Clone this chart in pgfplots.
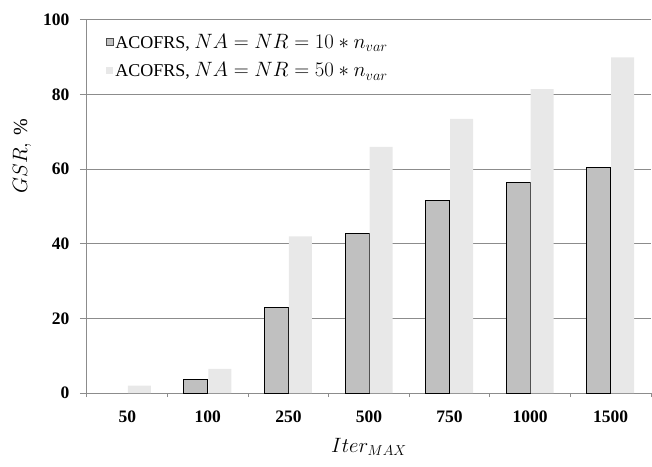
\documentclass[border=0pt]{standalone}
\usepackage{fontspec}
\setmainfont{Liberation Serif}
\usepackage{pgfplots}
\pgfplotsset{compat=1.18}
\usetikzlibrary{calc}

\definecolor{gridgray}{HTML}{8C8C8C}
\definecolor{barA}{HTML}{C0C0C0}
\definecolor{barB}{HTML}{E8E8E8}

\begin{document}
\begin{tikzpicture}
\begin{axis}[
  name=ax,
  scale only axis, width=564pt, height=373pt,
  xmin=-0.5, xmax=6.5, ymin=0, ymax=100,
  xtick={0,...,6},
  xticklabels={50,100,250,500,750,1000,1500},
  major x tick style={draw=none},
  minor xtick={-0.5,0.5,...,6.5},
  minor x tick style={gridgray, line width=1pt},
  minor tick length=4pt,
  ytick={0,20,...,100},
  major tick length=7pt,
  y tick style={gridgray, line width=1pt},
  tick align=outside,
  ymajorgrids, grid style={gridgray, line width=1pt},
  axis x line*=bottom, axis y line*=left,
  axis line style={gridgray, line width=1pt, -},
  /pgf/number format/assume math mode=true,
  ticklabel style={font=\bfseries\fontsize{17.5}{17.5}\selectfont},
  yticklabel style={xshift=-7pt},
  xticklabel style={yshift=-7pt},
  xlabel={$Iter_{MAX}$},
  ylabel={$GSR,\,\%$},
  label style={font=\fontsize{20}{20}\selectfont},
  xlabel style={at={(axis description cs:0.5,-0.145)}, anchor=center},
  ylabel style={at={(axis description cs:-0.115,0.635)}, anchor=center},
  legend style={at={(axis description cs:0.033,0.968)}, anchor=north west,
    draw=none, fill=none, font=\fontsize{18}{22}\selectfont,
    row sep=9pt, cells={anchor=west}, inner sep=0pt},
  legend cell align=left,
]
  \addplot[ybar, bar width=24pt, bar shift=-12pt, fill=barA, draw=black, line width=0.9pt,
    legend image code/.code={\draw[fill=barA, draw=black!70, line width=0.5pt] (0pt,-3.5pt) rectangle (7pt,3.5pt);}]
    coordinates {(1,3.5)(2,23)(3,42.7)(4,51.7)(5,56.5)(6,60.5)};
  \addlegendentry{ACOFRS, {\fontsize{21}{21}\selectfont$NA = NR = 10 * n_{var}$}}
  \addplot[ybar, bar width=23pt, bar shift=12pt, fill=barB, draw=none,
    legend image code/.code={\fill[barB] (0pt,-3.5pt) rectangle (7pt,3.5pt);}]
    coordinates {(0,2)(1,6.5)(2,42)(3,66)(4,73.5)(5,81.5)(6,90)};
  \addlegendentry{ACOFRS, {\fontsize{21}{21}\selectfont$NA = NR = 50 * n_{var}$}}
\end{axis}
\pgfresetboundingbox
\path ($(ax.south west)+(-87pt,-73pt)$) rectangle ($(ax.north east)+(1pt,20pt)$);
\end{tikzpicture}
\end{document}
